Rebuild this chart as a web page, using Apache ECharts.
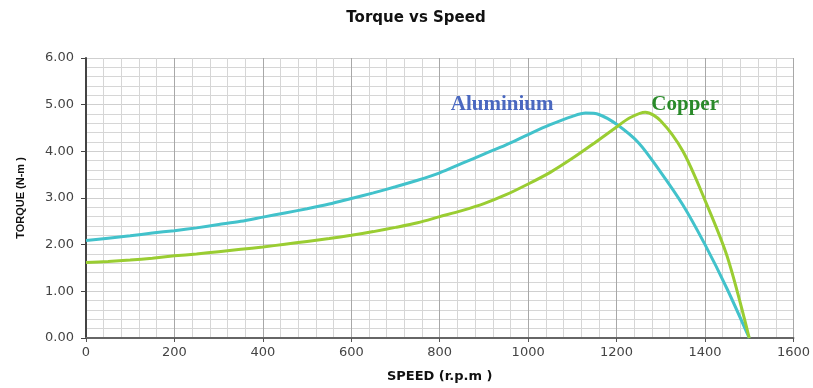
<!DOCTYPE html>
<html>
<head>
<meta charset="utf-8">
<script src="https://cdn.jsdelivr.net/npm/echarts@6/dist/echarts.min.js"></script>
<style type="text/css">
html, body { margin: 0; padding: 0; background: #fff; }
</style>
</head>
<body>
<div id="chart" style="width:813px; height:388px;"></div>
<script type="text/javascript">
// speed (r.p.m) / torque (N-m)
var alu_speed  = [0, 50, 100, 150, 200, 250, 300, 350, 400, 450, 500, 550, 600, 650, 700, 750, 800, 850, 900, 950, 1000, 1050, 1100, 1130, 1160, 1200, 1250, 1300, 1350, 1400, 1450, 1500];
var alu_torque = [2.09, 2.14, 2.19, 2.25, 2.30, 2.36, 2.43, 2.50, 2.59, 2.68, 2.77, 2.87, 2.99, 3.11, 3.24, 3.38, 3.54, 3.74, 3.94, 4.14, 4.36, 4.57, 4.75, 4.82, 4.79, 4.58, 4.18, 3.55, 2.85, 2.00, 1.05, 0];

var cu_speed  = [0, 50, 100, 150, 200, 250, 300, 350, 400, 450, 500, 550, 600, 650, 700, 750, 800, 850, 900, 950, 1000, 1050, 1100, 1150, 1200, 1230, 1265, 1300, 1350, 1400, 1450, 1500];
var cu_torque = [1.62, 1.64, 1.67, 1.71, 1.76, 1.80, 1.85, 1.90, 1.95, 2.01, 2.07, 2.13, 2.20, 2.28, 2.37, 2.47, 2.60, 2.73, 2.88, 3.07, 3.30, 3.55, 3.85, 4.18, 4.52, 4.72, 4.84, 4.65, 4.00, 2.95, 1.75, 0];

// where the two curve names sit (data coords)
var alu_label = [941, 5.0];
var cu_label  = [1355, 5.0];

function pairs(xs, ys) {
    var res = [];
    for (var i = 0; i < xs.length; i++) res.push([xs[i], ys[i]]);
    return res;
}

var myChart = echarts.init(document.getElementById('chart'));
var option = {
    animation: false,
    backgroundColor: '#fff',
    title: {
        text: 'Torque vs Speed',
        left: 411,
        top: 6,
        textAlign: 'center',
        textStyle: { fontFamily: 'DejaVu Sans', fontWeight: 'bold', fontSize: 15, color: '#111' }
    },
    grid: { left: 86, right: 18, top: 58, bottom: 48 },
    xAxis: {
        type: 'value',
        min: 0, max: 1600, interval: 200,
        name: 'SPEED (r.p.m )',
        nameLocation: 'middle',
        nameGap: 32,
        nameTextStyle: { fontFamily: 'DejaVu Sans', fontWeight: 'bold', fontSize: 13, color: '#111' },
        axisLine: { show: true, lineStyle: { color: '#666', width: 2 } },
        axisTick: { show: true, length: 4, lineStyle: { color: '#555' } },
        axisLabel: {
            fontFamily: 'DejaVu Sans', fontSize: 13, color: '#444', margin: 8,
            formatter: function (v) { return String(v); }
        },
        splitLine: { show: true, lineStyle: { color: '#a8a8a8', width: 1 } },
        minorTick: { show: false, splitNumber: 5 },
        minorSplitLine: { show: true, lineStyle: { color: '#d6d6d6', width: 1 } }
    },
    yAxis: {
        type: 'value',
        min: 0, max: 6, interval: 1,
        name: 'TORQUE (N-m )',
        nameLocation: 'middle',
        nameGap: 60,
        nameTextStyle: { fontFamily: 'Liberation Sans', fontWeight: 'bold', fontSize: 11, color: '#111' },
        axisLine: { show: true, lineStyle: { color: '#444', width: 2 } },
        axisTick: { show: true, length: 5, lineStyle: { color: '#444' } },
        axisLabel: {
            fontFamily: 'DejaVu Sans', fontSize: 13, color: '#444', margin: 12,
            formatter: function (v) { return v.toFixed(2); }
        },
        splitLine: { show: true, lineStyle: { color: '#cfcfcf', width: 1 } },
        minorTick: { show: false, splitNumber: 5 },
        minorSplitLine: { show: true, lineStyle: { color: '#d6d6d6', width: 1 } }
    },
    series: [
        {
            name: 'Aluminium',
            type: 'line',
            smooth: 0.3,
            symbol: 'none',
            lineStyle: { color: '#42c2cb', width: 3 },
            data: pairs(alu_speed, alu_torque),
            markPoint: {
                symbol: 'circle', symbolSize: 0,
                label: {
                    show: true, formatter: 'Aluminium', position: 'inside',
                    fontFamily: 'Liberation Serif', fontWeight: 'bold', fontSize: 21, color: '#4a68c0'
                },
                data: [{ coord: alu_label }]
            }
        },
        {
            name: 'Copper',
            type: 'line',
            smooth: 0.3,
            symbol: 'none',
            lineStyle: { color: '#9acd32', width: 3 },
            data: pairs(cu_speed, cu_torque),
            markPoint: {
                symbol: 'circle', symbolSize: 0,
                label: {
                    show: true, formatter: 'Copper', position: 'inside',
                    fontFamily: 'Liberation Serif', fontWeight: 'bold', fontSize: 21, color: '#2a8a2a'
                },
                data: [{ coord: cu_label }]
            }
        }
    ]
};
myChart.setOption(option);
</script>
</body>
</html>
